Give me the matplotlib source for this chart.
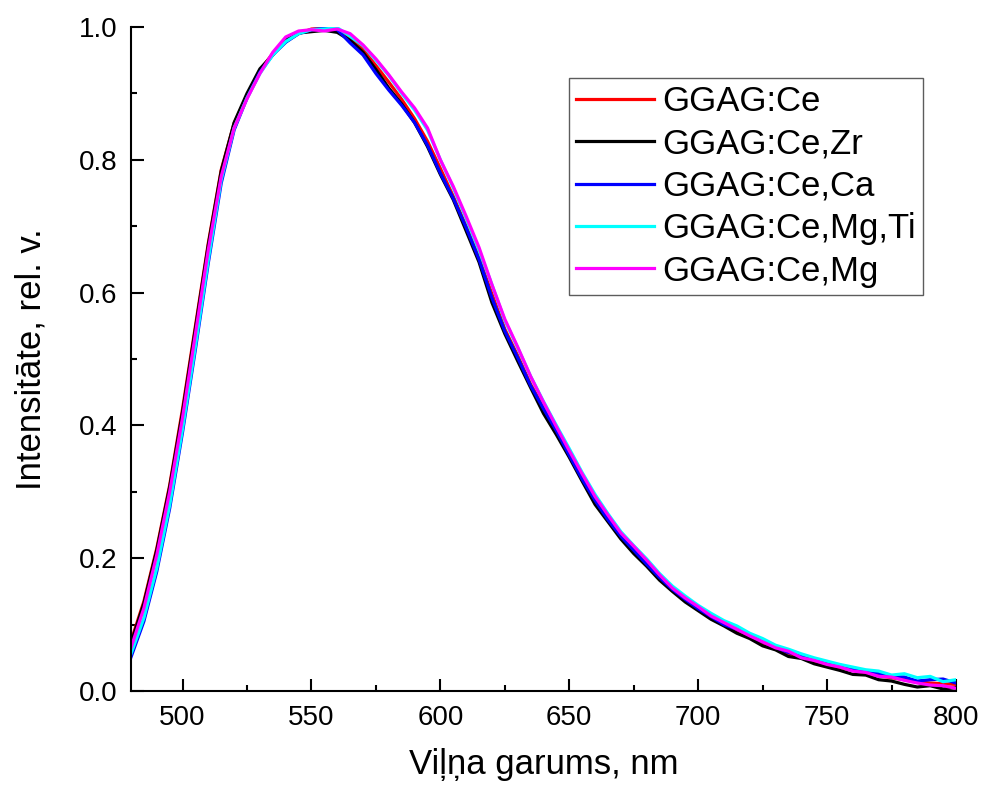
import numpy as np
from matplotlib import pyplot as plt

plt.rcParams['font.family'] = ['Liberation Sans', 'DejaVu Sans']

# wavelength grid, nm
wl = list(range(480, 805, 5))

ggag_ce = [0.075, 0.135, 0.215, 0.31, 0.425, 0.55, 0.675, 0.785, 0.855, 0.897,
           0.935, 0.96, 0.978, 0.99, 0.997, 0.998, 0.994, 0.984, 0.966, 0.942,
           0.917, 0.891, 0.862, 0.828, 0.787, 0.745, 0.70, 0.652, 0.598, 0.545,
           0.505, 0.462, 0.428, 0.394, 0.358, 0.322, 0.288, 0.26, 0.235, 0.214,
           0.193, 0.172, 0.153, 0.138, 0.124, 0.111, 0.099, 0.091, 0.082, 0.072,
           0.064, 0.057, 0.051, 0.045, 0.039, 0.035, 0.031, 0.027, 0.023, 0.02,
           0.017, 0.014, 0.012, 0.011, 0.01]
ggag_ce_zr = [0.072, 0.132, 0.212, 0.307, 0.42, 0.546, 0.672, 0.783, 0.856, 0.9,
              0.937, 0.958, 0.982, 0.991, 0.993, 0.995, 0.992, 0.98, 0.962, 0.936,
              0.908, 0.884, 0.856, 0.82, 0.778, 0.74, 0.693, 0.646, 0.585, 0.538,
              0.497, 0.457, 0.418, 0.386, 0.352, 0.316, 0.281, 0.255, 0.229, 0.207,
              0.188, 0.167, 0.15, 0.134, 0.121, 0.108, 0.098, 0.087, 0.079, 0.068,
              0.062, 0.052, 0.049, 0.041, 0.036, 0.031, 0.025, 0.024, 0.017, 0.015,
              0.01, 0.006, 0.008, 0.003, 0.005]
ggag_ce_ca = [0.051, 0.105, 0.18, 0.275, 0.39, 0.515, 0.645, 0.765, 0.845, 0.893,
              0.932, 0.958, 0.977, 0.99, 0.996, 0.998, 0.996, 0.976, 0.958, 0.93,
              0.905, 0.882, 0.856, 0.822, 0.78, 0.742, 0.698, 0.65, 0.592, 0.542,
              0.502, 0.46, 0.425, 0.392, 0.355, 0.319, 0.287, 0.258, 0.233, 0.212,
              0.191, 0.171, 0.153, 0.138, 0.124, 0.112, 0.1, 0.093, 0.084, 0.074,
              0.066, 0.058, 0.054, 0.047, 0.042, 0.039, 0.033, 0.03, 0.027, 0.022,
              0.021, 0.015, 0.017, 0.018, 0.012]
ggag_ce_mg_ti = [0.056, 0.11, 0.185, 0.28, 0.395, 0.52, 0.65, 0.77, 0.848, 0.893,
                 0.93, 0.958, 0.978, 0.99, 0.996, 0.997, 0.999, 0.986, 0.972, 0.95,
                 0.927, 0.9, 0.875, 0.845, 0.8, 0.758, 0.712, 0.664, 0.612, 0.558,
                 0.517, 0.474, 0.436, 0.4, 0.365, 0.329, 0.296, 0.267, 0.24, 0.219,
                 0.199, 0.177, 0.158, 0.143, 0.129, 0.117, 0.106, 0.098, 0.087, 0.079,
                 0.069, 0.063, 0.056, 0.05, 0.045, 0.04, 0.036, 0.032, 0.03, 0.024,
                 0.026, 0.02, 0.022, 0.014, 0.017]
ggag_ce_mg = [0.065, 0.125, 0.205, 0.3, 0.412, 0.538, 0.665, 0.775, 0.848, 0.892,
              0.93, 0.962, 0.985, 0.994, 0.996, 0.994, 0.997, 0.99, 0.973, 0.952,
              0.928, 0.902, 0.878, 0.848, 0.8, 0.76, 0.715, 0.668, 0.612, 0.56,
              0.518, 0.474, 0.435, 0.398, 0.362, 0.327, 0.293, 0.265, 0.238, 0.218,
              0.197, 0.175, 0.155, 0.14, 0.127, 0.113, 0.103, 0.093, 0.083, 0.074,
              0.065, 0.06, 0.05, 0.046, 0.04, 0.036, 0.03, 0.028, 0.022, 0.021,
              0.016, 0.012, 0.009, 0.008, 0.004]

labels = ['GGAG:Ce', 'GGAG:Ce,Zr', 'GGAG:Ce,Ca', 'GGAG:Ce,Mg,Ti', 'GGAG:Ce,Mg']
colors = ['#ff0000', '#000000', '#0000ff', '#00ffff', '#ff00ff']
series = [ggag_ce, ggag_ce_zr, ggag_ce_ca, ggag_ce_mg_ti, ggag_ce_mg]

fig = plt.figure(figsize=(9.82, 7.88), dpi=100)
ax = fig.add_axes([0.1334, 0.1231, 0.8401, 0.8426])

for ys, lab, c in zip(series, labels, colors):
    ax.plot(wl, ys, color=c, lw=2.3, label=lab)

ax.set_xlim(480, 800)
ax.set_ylim(0, 1.0)
ax.set_xticks([500, 550, 600, 650, 700, 750, 800])
ax.set_xticks(np.arange(525, 800, 50), minor=True)
ax.set_yticks([0.0, 0.2, 0.4, 0.6, 0.8, 1.0])
ax.set_yticks([0.1, 0.3, 0.5, 0.7, 0.9], minor=True)

for s in ['top', 'right']:
    ax.spines[s].set_visible(False)
for s in ['left', 'bottom']:
    ax.spines[s].set_linewidth(1.5)

ax.tick_params(which='major', direction='in', length=9, width=1.5, labelsize=20, pad=10)
ax.tick_params(which='minor', direction='in', length=4.5, width=1.5)

ax.set_xlabel('Viļņa garums, nm', fontsize=25, labelpad=12)
ax.set_ylabel('Intensitāte, rel. v.', fontsize=25, labelpad=22)

leg = ax.legend(loc='upper right', bbox_to_anchor=(0.96, 0.923), borderaxespad=0,
                fontsize=25, frameon=True, fancybox=False, handlelength=2.25,
                handletextpad=0.25, labelspacing=0.27, borderpad=0.2)
leg.get_frame().set_edgecolor('#333333')
leg.get_frame().set_linewidth(1.0)

fig.savefig('out.png', dpi=100)
